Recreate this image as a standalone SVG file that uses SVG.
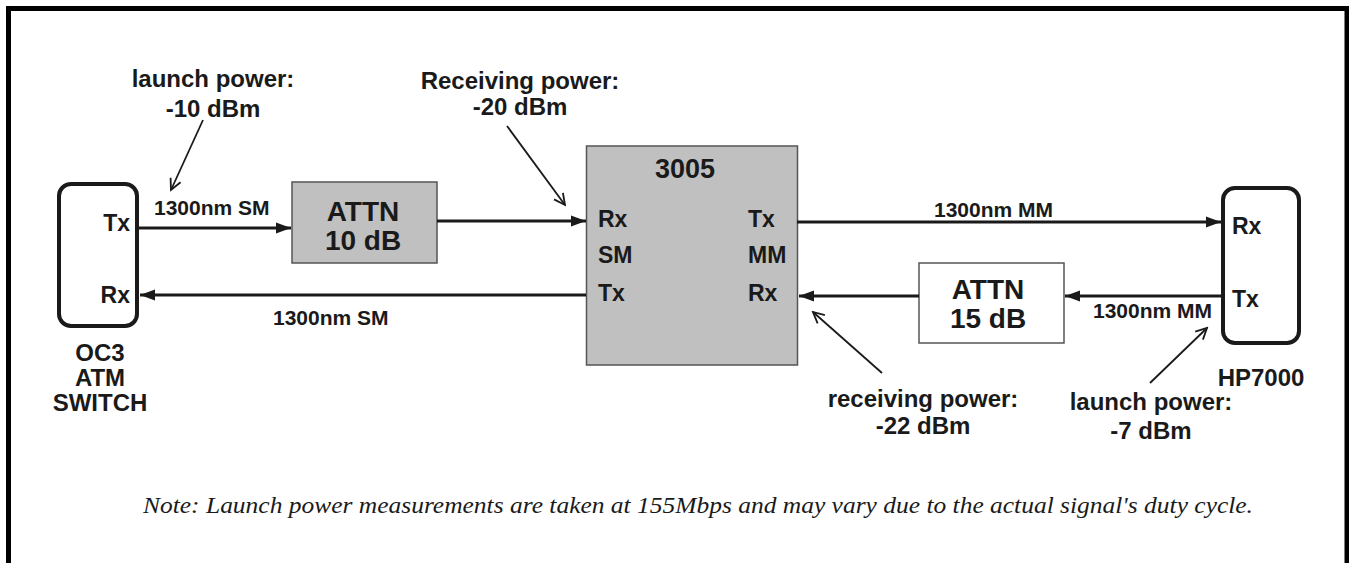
<svg xmlns="http://www.w3.org/2000/svg" width="1349" height="563" viewBox="0 0 1349 563">
<defs>
<style>
.t{font-family:"Liberation Sans",Arial,sans-serif;font-weight:bold;fill:#1a1a1a}
.lbl{font-size:24px;text-anchor:middle}
.cl{font-size:21px}
.port{font-size:23px}
.attn{font-size:28px;text-anchor:middle}
.dev{fill:none;stroke:#1a1a1a;stroke-width:4}
.gray{fill:#c0c0c0;stroke:#555;stroke-width:1.5}
.wbox{fill:#fff;stroke:#555;stroke-width:1.5}
.line{fill:none;stroke:#1a1a1a;stroke-width:3}
.thin{fill:none;stroke:#1a1a1a;stroke-width:1.8}
.note{font-family:"Liberation Serif","Times New Roman",serif;font-style:italic;font-size:23px;fill:#1a1a1a}
</style>
<marker id="ah" markerUnits="userSpaceOnUse" markerWidth="16" markerHeight="12" refX="15" refY="6" orient="auto">
<path d="M0,0.5 L15,6 L0,11.5 z" fill="#1a1a1a"/>
</marker>
<marker id="oa" markerUnits="userSpaceOnUse" markerWidth="14" markerHeight="14" refX="12" refY="7" orient="auto">
<path d="M1,1.5 L12,7 L1,12.5" fill="none" stroke="#1a1a1a" stroke-width="1.8"/>
</marker>
</defs>
<rect width="1349" height="563" fill="#fff"/>
<path d="M8.5,563 V8.5 H1347 V563" fill="none" stroke="#000" stroke-width="5"/>

<g id="oc3-switch">
<rect class="dev" x="59" y="184" width="78" height="142" rx="12"/>
<text class="t port" x="130" y="231" text-anchor="end">Tx</text>
<text class="t port" x="130" y="303" text-anchor="end">Rx</text>
<text class="t lbl" x="100" y="361" font-size="22">OC3</text>
<text class="t lbl" x="100" y="386" font-size="22">ATM</text>
<text class="t lbl" x="100" y="411" font-size="22">SWITCH</text>
</g>

<g id="attn10">
<rect class="gray" x="292" y="182" width="145" height="81"/>
<text class="t attn" x="363" y="221">ATTN</text>
<text class="t attn" x="363" y="250">10 dB</text>
</g>

<g id="dev3005">
<rect class="gray" x="586.5" y="146" width="211" height="219"/>
<text class="t" x="685" y="178" font-size="27" text-anchor="middle">3005</text>
<text class="t port" x="598" y="227">Rx</text>
<text class="t port" x="598" y="263">SM</text>
<text class="t port" x="598" y="301">Tx</text>
<text class="t port" x="748" y="227">Tx</text>
<text class="t port" x="748" y="263">MM</text>
<text class="t port" x="748" y="301">Rx</text>
</g>

<g id="attn15">
<rect class="wbox" x="919" y="263" width="145" height="80"/>
<text class="t attn" x="988" y="299">ATTN</text>
<text class="t attn" x="988" y="328">15 dB</text>
</g>

<g id="hp7000">
<rect class="dev" x="1223" y="188" width="76" height="155" rx="12"/>
<text class="t port" x="1232" y="234">Rx</text>
<text class="t port" x="1232" y="307">Tx</text>
<text class="t lbl" x="1261" y="386">HP7000</text>
</g>

<g id="connectors">
<path class="line" d="M139,228 H291" marker-end="url(#ah)"/>
<path class="line" d="M437,221 H586" marker-end="url(#ah)"/>
<path class="line" d="M586,295 H140" marker-end="url(#ah)"/>
<path class="line" d="M797,222 H1221" stroke-width="2.2" marker-end="url(#ah)"/>
<path class="line" d="M1221,296 H1065" marker-end="url(#ah)"/>
<path class="line" d="M919,296 H799" marker-end="url(#ah)"/>
<path class="thin" d="M203,120 L171,190" marker-end="url(#oa)"/>
<path class="thin" d="M507,126 L565,205" marker-end="url(#oa)"/>
<path class="thin" d="M882,373 L813,312" marker-end="url(#oa)"/>
<path class="thin" d="M1150,383 L1207,328" marker-end="url(#oa)"/>
</g>

<g id="labels">
<text class="t lbl" x="213" y="87">launch power:</text>
<text class="t lbl" x="213" y="117">-10 dBm</text>
<text class="t lbl" x="520" y="89">Receiving power:</text>
<text class="t lbl" x="520" y="115">-20 dBm</text>
<text class="t cl" x="154" y="215">1300nm SM</text>
<text class="t cl" x="273" y="325">1300nm SM</text>
<text class="t cl" x="934" y="217">1300nm MM</text>
<text class="t cl" x="1093" y="318">1300nm MM</text>
<text class="t lbl" x="923" y="407">receiving power:</text>
<text class="t lbl" x="923" y="434">-22 dBm</text>
<text class="t lbl" x="1151" y="410">launch power:</text>
<text class="t lbl" x="1151" y="439">-7 dBm</text>
</g>

<text class="note" x="698" y="513" text-anchor="middle" textLength="1110" lengthAdjust="spacingAndGlyphs">Note: Launch power measurements are taken at 155Mbps and may vary due to the actual signal's duty cycle.</text>
</svg>
